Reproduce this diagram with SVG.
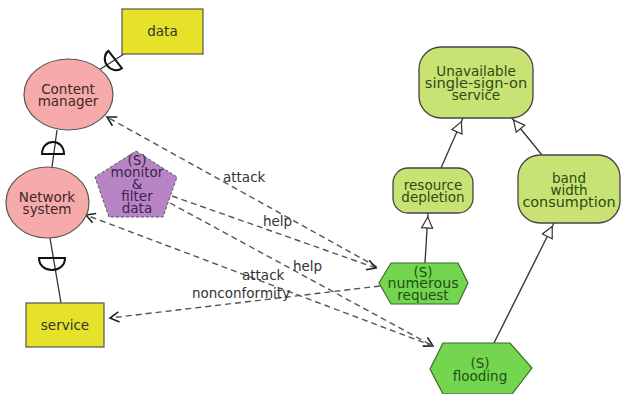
<svg xmlns="http://www.w3.org/2000/svg" width="621" height="394" viewBox="0 0 621 394">
  <style>
    .lbl { font-family: "DejaVu Sans", "Liberation Sans", sans-serif; font-size: 13.5px; text-anchor: middle; }
    .edge-lbl { font-family: "DejaVu Sans", "Liberation Sans", sans-serif; font-size: 13.5px; fill: #333; }
    .actor { fill: #f7aaaa; stroke: #555; stroke-width: 1.2; }
    .resource { fill: #e6e22a; stroke: #555; stroke-width: 1.2; }
    .softgoal { fill: #b884c6; stroke: #555; stroke-width: 1; stroke-dasharray: 3 2; }
    .goal { fill: #c8e274; stroke: #444; stroke-width: 1.3; }
    .task { fill: #74d64f; stroke: #3a6a2a; stroke-width: 1.2; }
    .link { fill: none; stroke: #333; stroke-width: 1.3; }
    .dep { fill: none; stroke: #111; stroke-width: 2; }
    .dashed { fill: none; stroke: #555; stroke-width: 1.4; stroke-dasharray: 6 4; marker-end: url(#vArrow); }
    .means { fill: none; stroke: #333; stroke-width: 1.3; marker-end: url(#meansEnd); }
  </style>
  <defs>
    <marker id="vArrow" markerUnits="userSpaceOnUse" markerWidth="24" markerHeight="24" viewBox="-12 -12 24 24" refX="0" refY="0" orient="auto">
      <path d="M-9,-5 L0,0 L-9,5" fill="none" stroke="#222" stroke-width="1.6"/>
    </marker>
    <marker id="meansEnd" markerUnits="userSpaceOnUse" markerWidth="40" markerHeight="40" viewBox="-20 -20 40 40" refX="0" refY="0" orient="auto">
      <path d="M-4,0 L-15,-5.5 L-15,5.5 Z" fill="#fff" stroke="#333" stroke-width="1.2"/>
    </marker>
  </defs>

  <!-- connectors -->
  <g id="connectors">
    <!-- dependency links -->
    <line class="link" x1="99" y1="70" x2="124" y2="54"/>
    <path class="dep" transform="translate(112,62) rotate(-38)" d="M4,-11 L4,11 A10,11 0 0 1 4,-11 Z"/>
    <line class="link" x1="57" y1="130" x2="52" y2="167"/>
    <path class="dep" d="M42,154 L64,154 C64,138 42,138 42,154 Z"/>
    <line class="link" x1="50" y1="238" x2="61" y2="303"/>
    <path class="dep" d="M39,258 L65,258 C65,274 39,274 39,258 Z"/>

    <!-- dashed contribution links -->
    <path class="dashed" d="M377,267 L107,117"/>
    <path class="dashed" d="M172,196 L376,268"/>
    <path class="dashed" d="M170,203 L433,346"/>
    <path class="dashed" d="M433,346 L86,215"/>
    <path class="dashed" d="M380,286 L110,318"/>

    <!-- means-end links -->
    <line class="means" x1="441" y1="168" x2="463" y2="118"/>
    <line class="means" x1="542" y1="155" x2="511" y2="117"/>
    <line class="means" x1="425" y1="263" x2="428" y2="213"/>
    <line class="means" x1="494" y1="343" x2="554" y2="223"/>

    <text class="edge-lbl" x="223" y="182">attack</text>
    <text class="edge-lbl" x="263" y="226">help</text>
    <text class="edge-lbl" x="293" y="271">help</text>
    <text class="edge-lbl" x="242" y="280">attack</text>
    <text class="edge-lbl" x="192" y="298">nonconformity</text>
  </g>

  <!-- actors and resources -->
  <g id="data">
    <rect class="resource" x="122" y="9" width="81" height="45"/>
    <text class="lbl" x="162.5" y="36" fill="#333">data</text>
  </g>
  <g id="content-manager">
    <ellipse class="actor" cx="68.5" cy="94.5" rx="44.5" ry="35.5"/>
    <text class="lbl" fill="#402828"><tspan x="68" y="94">Content</tspan><tspan x="68" dy="12">manager</tspan></text>
  </g>
  <g id="network-system">
    <ellipse class="actor" cx="47.5" cy="202.5" rx="41.5" ry="35.5"/>
    <text class="lbl" fill="#402828"><tspan x="47" y="202">Network</tspan><tspan x="47" dy="12">system</tspan></text>
  </g>
  <g id="service">
    <rect class="resource" x="26" y="303" width="78" height="44"/>
    <text class="lbl" x="65" y="330" fill="#333">service</text>
  </g>
  <g id="monitor-filter-data">
    <polygon class="softgoal" points="136,151 177,177 163,217 109,217 95,177"/>
    <text class="lbl" fill="#3a2446"><tspan x="137" y="165">(S)</tspan><tspan x="137" dy="12">monitor</tspan><tspan x="137" dy="12">&amp;</tspan><tspan x="137" dy="12">filter</tspan><tspan x="137" dy="12">data</tspan></text>
  </g>

  <!-- goals -->
  <g id="unavailable-sso">
    <rect class="goal" x="419" y="47" width="114" height="71" rx="22"/>
    <text class="lbl" fill="#2e4a14"><tspan x="476" y="76">Unavailable</tspan><tspan x="476" dy="12" style="font-size:14.6px">single-sign-on</tspan><tspan x="476" dy="12">service</tspan></text>
  </g>
  <g id="resource-depletion">
    <rect class="goal" x="393" y="168" width="80" height="45" rx="15"/>
    <text class="lbl" fill="#2e4a14"><tspan x="433" y="189.5">resource</tspan><tspan x="433" dy="12">depletion</tspan></text>
  </g>
  <g id="band-width-consumption">
    <rect class="goal" x="518" y="155" width="102" height="68" rx="22"/>
    <text class="lbl" fill="#2e4a14"><tspan x="569" y="183">band</tspan><tspan x="569" dy="12">width</tspan><tspan x="569" dy="12" style="font-size:14.4px">consumption</tspan></text>
  </g>

  <!-- tasks -->
  <g id="numerous-request">
    <polygon class="task" points="379,283 391,263 458,263 468,283 458,304 391,304"/>
    <text class="lbl" fill="#1e4f16"><tspan x="423" y="276.5">(S)</tspan><tspan x="423" dy="11.5" style="font-size:14.2px">numerous</tspan><tspan x="423" dy="11.5">request</tspan></text>
  </g>
  <g id="flooding">
    <polygon class="task" points="430,369 443,343 510,343 532,368 512,394 443,394"/>
    <text class="lbl" fill="#1e4f16"><tspan x="480" y="368">(S)</tspan><tspan x="480" dy="13">flooding</tspan></text>
  </g>
</svg>
